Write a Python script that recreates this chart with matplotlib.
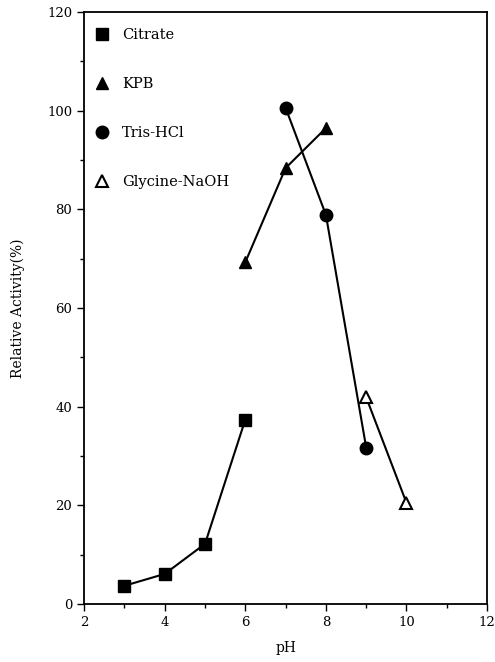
import matplotlib
matplotlib.use("Agg")
import matplotlib.pyplot as plt
from matplotlib.lines import Line2D
from matplotlib.ticker import MultipleLocator

plt.rcParams['font.family'] = ['DejaVu Serif']

citrate_x = [3, 4, 5, 6]
citrate_y = [3.7, 6.1, 12.2, 37.4]
kpb_x = [6, 7, 8]
kpb_y = [69.3, 88.4, 96.5]
tris_x = [7, 8, 9]
tris_y = [100.6, 78.9, 31.7]
gly_x = [9, 10]
gly_y = [41.9, 20.5]

xticks = [2, 4, 6, 8, 10, 12]
yticks = [0, 20, 40, 60, 80, 100, 120]

fig = plt.figure(figsize=(4.95, 6.62), dpi=100)
ax = fig.add_axes([0.170, 0.0876, 0.814, 0.894])

ms = 9
lw = 1.5
ax.plot(citrate_x, citrate_y, color='black', lw=lw, marker='s', ms=ms)
ax.plot(kpb_x, kpb_y, color='black', lw=lw, marker='^', ms=ms)
ax.plot(tris_x, tris_y, color='black', lw=lw, marker='o', ms=ms)
ax.plot(gly_x, gly_y, color='black', lw=lw, marker='^', ms=ms,
        markerfacecolor='white', markeredgewidth=1.5)

ax.set_xlim(2, 12)
ax.set_ylim(0, 120)
ax.set_xticks(xticks)
ax.set_yticks(yticks)
ax.xaxis.set_minor_locator(MultipleLocator(1))
ax.yaxis.set_minor_locator(MultipleLocator(10))
ax.tick_params(which='major', direction='out', length=5, width=1, labelsize=9.5)
ax.tick_params(which='minor', direction='out', length=3, width=1)
for s in ax.spines.values():
    s.set_linewidth(1.3)

ax.set_xlabel('pH', fontsize=10, labelpad=9)
ax.set_ylabel('Relative Activity(%)', fontsize=10, labelpad=16)

handles = [
    Line2D([], [], ls='none', marker='s', color='black', ms=ms),
    Line2D([], [], ls='none', marker='^', color='black', ms=ms),
    Line2D([], [], ls='none', marker='o', color='black', ms=ms),
    Line2D([], [], ls='none', marker='^', color='black', ms=ms,
           markerfacecolor='white', markeredgewidth=1.5),
]
labels = ['Citrate', 'KPB', 'Tris-HCl', 'Glycine-NaOH']
ax.legend(handles, labels, loc='upper left', frameon=False, fontsize=10.5,
          labelspacing=2.4, handlelength=1.0, handletextpad=0.9,
          borderaxespad=0.3, bbox_to_anchor=(0.0, 0.99))

fig.savefig('out.png', dpi=100)
